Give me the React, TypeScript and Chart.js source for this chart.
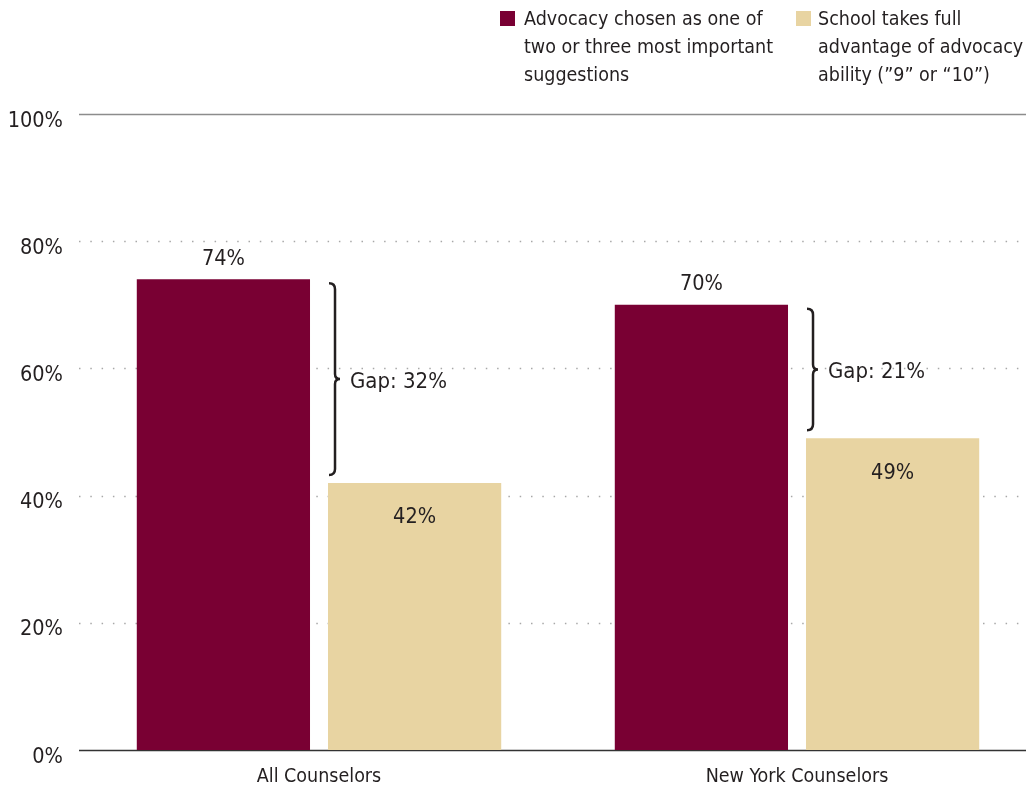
import { useEffect, useRef } from 'react';
import { Chart, registerables } from 'chart.js';

Chart.register(...registerables);

const categories = ['All Counselors', 'New York Counselors'];
const advocacyChosen = [74, 70];
const fullAdvantage = [42, 49];
const yTicks = [0, 20, 40, 60, 80, 100];
const legendAdvocacy = ['Advocacy chosen as one of', 'two or three most important', 'suggestions'];
const legendFull = ['School takes full', 'advantage of advocacy', 'ability (\u201D9\u201D or \u201C10\u201D)'];

const MAROON = '#790033';
const BEIGE = '#E8D4A2';
const TEXT = '#231f20';
const FONT = "'Liberation Sans Narrow', 'DejaVu Sans Condensed', 'Roboto Condensed', 'Liberation Sans', sans-serif";

const annotPlugin = {
  id: 'annot',
  beforeDatasetsDraw(chart: any) {
    const { ctx, chartArea, scales } = chart;
    const y = scales.y;
    ctx.save();
    yTicks.forEach((v) => {
      const py = Math.round(y.getPixelForValue(v)) + 0.5;
      ctx.beginPath();
      if (v === 100) {
        ctx.strokeStyle = '#8c8c8c';
        ctx.lineWidth = 1.5;
        ctx.setLineDash([]);
      } else if (v === 0) {
        ctx.strokeStyle = '#333333';
        ctx.lineWidth = 1.5;
        ctx.setLineDash([]);
      } else {
        ctx.strokeStyle = '#a8a8a8';
        ctx.lineWidth = 1.5;
        ctx.setLineDash([1.5, 9.8]);
      }
      ctx.moveTo(chartArea.left - 1, py);
      ctx.lineTo(chartArea.right, py);
      ctx.stroke();
    });
    ctx.restore();
  },
  afterDatasetsDraw(chart: any) {
    const { ctx } = chart;
    const m0 = chart.getDatasetMeta(0).data;
    const m1 = chart.getDatasetMeta(1).data;
    ctx.save();
    ctx.fillStyle = TEXT;
    ctx.textAlign = 'center';
    ctx.textBaseline = 'middle';
    ctx.font = `21.5px ${FONT}`;
    m0.forEach((bar: any, i: number) => {
      ctx.fillText(`${advocacyChosen[i]}%`, bar.x, bar.y - 20);
    });
    m1.forEach((bar: any, i: number) => {
      ctx.fillText(`${fullAdvantage[i]}%`, bar.x, bar.y + 35);
    });
    // braces
    m0.forEach((bar: any, i: number) => {
      const b2 = m1[i];
      const x = bar.x + bar.width / 2 + 25;
      const y1 = bar.y + 4;
      const y2 = b2.y - 8;
      const ym = (y1 + y2) / 2;
      ctx.beginPath();
      ctx.strokeStyle = TEXT;
      ctx.lineWidth = 2.5;
      ctx.moveTo(x - 6, y1);
      ctx.quadraticCurveTo(x, y1, x, y1 + 6);
      ctx.lineTo(x, ym - 5);
      ctx.quadraticCurveTo(x, ym, x + 5, ym);
      ctx.quadraticCurveTo(x, ym, x, ym + 5);
      ctx.lineTo(x, y2 - 6);
      ctx.quadraticCurveTo(x, y2, x - 6, y2);
      ctx.stroke();
      ctx.textAlign = 'left';
      ctx.font = `22px ${FONT}`;
      ctx.fillText(`Gap: ${advocacyChosen[i] - fullAdvantage[i]}%`, x + 15, ym + 3);
    });
    ctx.restore();
  },
  afterDraw(chart: any) {
    const { ctx } = chart;
    ctx.save();
    ctx.textAlign = 'left';
    ctx.textBaseline = 'middle';
    ctx.font = `19.5px ${FONT}`;
    const items = [
      { color: MAROON, lines: legendAdvocacy, sx: 500, tx: 524 },
      { color: BEIGE, lines: legendFull, sx: 796, tx: 818 },
    ];
    items.forEach((it) => {
      ctx.fillStyle = it.color;
      ctx.fillRect(it.sx, 11, 15, 15);
      ctx.fillStyle = TEXT;
      it.lines.forEach((ln, k) => ctx.fillText(ln, it.tx, 20 + k * 28));
    });
    ctx.restore();
  },
};

export default function App() {
  const ref = useRef<HTMLCanvasElement | null>(null);
  useEffect(() => {
    document.body.style.margin = '0';
    document.body.style.overflow = 'hidden';
    if (!ref.current) return;
    const chart = new Chart(ref.current, {
      type: 'bar',
      data: {
        labels: categories,
        datasets: [
          { label: legendAdvocacy.join(' '), data: advocacyChosen, backgroundColor: MAROON },
          { label: legendFull.join(' '), data: fullAdvantage, backgroundColor: BEIGE },
        ],
      },
      options: {
        animation: false,
        responsive: false,
        maintainAspectRatio: false,
        layout: { padding: { top: 114, left: 0, right: 4, bottom: 0 } },
        plugins: { legend: { display: false }, tooltip: { enabled: false } },
        datasets: { bar: { categoryPercentage: 0.8, barPercentage: 0.906 } },
        scales: {
          x: {
            grid: { display: false, drawTicks: false },
            border: { display: false },
            ticks: { color: TEXT, font: { family: FONT, size: 19.5 }, padding: 15, maxRotation: 0 },
            afterFit: (s: any) => { s.height = 41; },
          },
          y: {
            min: 0,
            max: 100,
            afterBuildTicks: (s: any) => { s.ticks = yTicks.map((v) => ({ value: v })); },
            grid: { display: false, drawTicks: false },
            border: { display: false },
            ticks: {
              color: TEXT,
              font: { family: FONT, size: 21.5 },
              padding: 17,
              labelOffset: 7,
              callback: (v: any) => `${v}%`,
            },
            afterFit: (s: any) => { s.width = 80; },
          },
        },
      },
      plugins: [annotPlugin],
    });
    return () => chart.destroy();
  }, []);
  return (
    <div style={{ position: 'fixed', left: 0, top: 0, width: 1026, height: 791, overflow: 'hidden' }}>
      <canvas ref={ref} width={1040} height={791} style={{ width: 1040, height: 791, display: 'block' }} />
    </div>
  );
}
